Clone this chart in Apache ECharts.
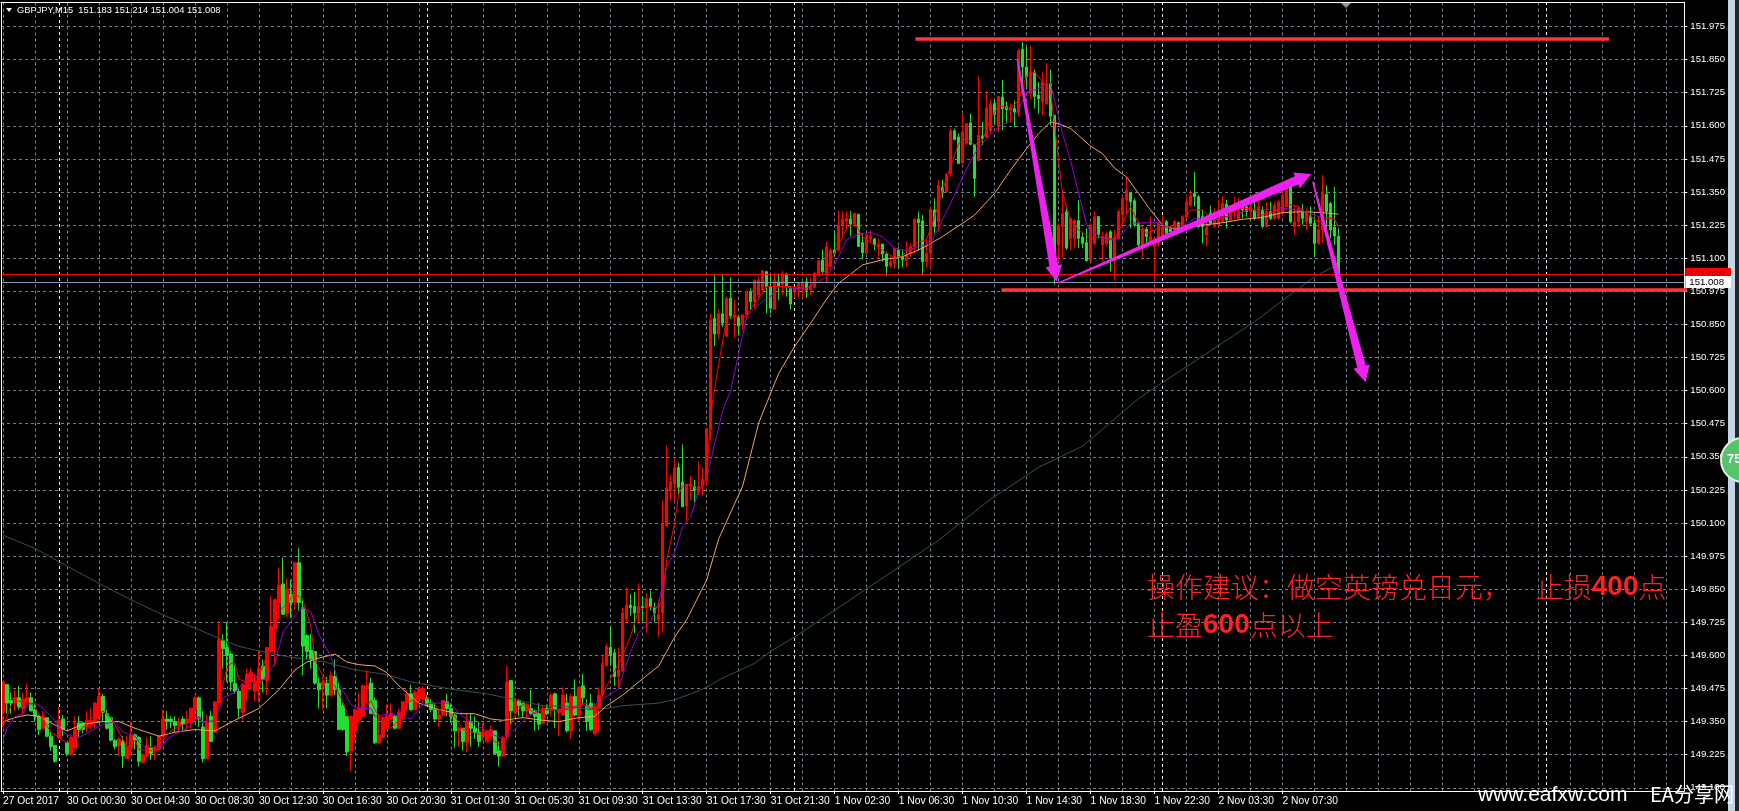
<!DOCTYPE html>
<html><head><meta charset="utf-8">
<style>html,body{margin:0;padding:0;background:#000;overflow:hidden}#c{width:1739px;height:811px}</style>
<script src="https://cdn.jsdelivr.net/npm/echarts@6/dist/echarts.min.js"></script>
</head><body><div id="c"></div>
<script>
// [open, high, low, close], one row per 15-minute bar
const bars = [
[149.39,149.50,149.33,149.50],[149.49,149.49,149.38,149.42],[149.43,149.46,149.38,149.42],[149.42,149.47,149.39,149.44],[149.44,149.485,149.395,149.405],
[149.40,149.46,149.375,149.435],[149.425,149.49,149.42,149.44],[149.44,149.46,149.39,149.39],[149.395,149.415,149.35,149.37],[149.37,149.375,149.30,149.32],
[149.325,149.39,149.32,149.37],[149.365,149.365,149.29,149.295],[149.295,149.31,149.24,149.255],[149.26,149.26,149.195,149.20],[149.29,149.405,149.285,149.355],
[149.36,149.375,149.295,149.32],[149.27,149.27,149.22,149.23],[149.225,149.295,149.225,149.29],[149.25,149.37,149.245,149.32],[149.345,149.37,149.29,149.32],
[149.345,149.35,149.305,149.32],[149.33,149.39,149.31,149.355],[149.34,149.40,149.32,149.355],[149.345,149.425,149.325,149.42],[149.37,149.475,149.36,149.445],
[149.445,149.455,149.35,149.385],[149.38,149.395,149.32,149.325],[149.365,149.37,149.275,149.28],[149.28,149.285,149.245,149.255],[149.26,149.29,149.22,149.285],
[149.275,149.295,149.175,149.22],[149.21,149.295,149.21,149.255],[149.25,149.35,149.225,149.30],[149.30,149.305,149.245,149.28],[149.29,149.295,149.18,149.20],
[149.195,149.23,149.195,149.225],[149.22,149.29,149.215,149.26],[149.25,149.295,149.205,149.23],[149.24,149.26,149.205,149.25],[149.245,149.30,149.24,149.295],
[149.295,149.395,149.29,149.36],[149.36,149.39,149.32,149.35],[149.36,149.37,149.325,149.35],[149.35,149.37,149.31,149.335],[149.335,149.365,149.31,149.35],
[149.36,149.37,149.315,149.34],[149.345,149.39,149.315,149.36],[149.345,149.40,149.325,149.40],[149.395,149.445,149.35,149.44],[149.44,149.445,149.33,149.36],
[149.33,149.39,149.195,149.21],[149.21,149.375,149.21,149.345],[149.37,149.39,149.275,149.275],[149.31,149.425,149.31,149.425],[149.42,149.73,149.42,149.66],
[149.655,149.68,149.55,149.625],[149.63,149.725,149.50,149.60],[149.605,149.615,149.465,149.50],[149.495,149.565,149.455,149.465],[149.465,149.475,149.365,149.40],
[149.385,149.495,149.35,149.49],[149.475,149.55,149.425,149.53],[149.50,149.55,149.47,149.535],[149.465,149.53,149.425,149.505],[149.495,149.615,149.425,149.55],
[149.56,149.585,149.46,149.51],[149.505,149.63,149.45,149.63],[149.615,149.825,149.61,149.71],[149.70,149.815,149.56,149.81],[149.80,149.93,149.735,149.865],
[149.87,149.97,149.755,149.755],[149.76,149.89,149.745,149.85],[149.83,149.885,149.74,149.80],[149.80,149.95,149.77,149.95],[149.95,150.005,149.77,149.80],
[149.78,149.815,149.525,149.635],[149.675,149.68,149.585,149.615],[149.62,149.68,149.55,149.585],[149.615,149.615,149.49,149.495],[149.495,149.515,149.40,149.47],
[149.485,149.52,149.395,149.50],[149.495,149.52,149.40,149.45],[149.45,149.54,149.445,149.525],[149.52,149.585,149.45,149.47],[149.47,149.50,149.32,149.32],
[149.41,149.42,149.315,149.32],[149.37,149.37,149.22,149.235],[149.24,149.37,149.165,149.37],[149.315,149.40,149.275,149.395],[149.355,149.46,149.355,149.40],
[149.37,149.49,149.365,149.485],[149.475,149.545,149.42,149.485],[149.495,149.515,149.38,149.38],[149.43,149.44,149.265,149.27],[149.27,149.38,149.265,149.30],
[149.29,149.37,149.29,149.365],[149.325,149.415,149.325,149.37],[149.36,149.42,149.355,149.38],[149.37,149.375,149.32,149.325],[149.325,149.40,149.32,149.385],
[149.37,149.425,149.355,149.425],[149.42,149.47,149.39,149.455],[149.455,149.49,149.39,149.395],[149.395,149.47,149.395,149.46],[149.435,149.48,149.42,149.475],
[149.435,149.485,149.42,149.475],[149.44,149.45,149.41,149.415],[149.42,149.435,149.385,149.395],[149.395,149.42,149.35,149.36],[149.36,149.395,149.33,149.375],
[149.375,149.43,149.37,149.43],[149.425,149.455,149.37,149.40],[149.40,149.42,149.345,149.37],[149.375,149.38,149.25,149.315],[149.315,149.33,149.255,149.325],
[149.325,149.325,149.24,149.275],[149.27,149.38,149.235,149.35],[149.35,149.38,149.255,149.325],[149.325,149.37,149.285,149.31],[149.31,149.35,149.255,149.275],
[149.295,149.345,149.28,149.31],[149.275,149.32,149.27,149.315],[149.295,149.335,149.28,149.32],[149.315,149.315,149.23,149.23],[149.24,149.275,149.18,149.22],
[149.22,149.295,149.22,149.29],[149.295,149.56,149.28,149.50],[149.505,149.505,149.34,149.39],[149.385,149.44,149.38,149.425],[149.43,149.435,149.37,149.41],
[149.42,149.42,149.365,149.39],[149.39,149.42,149.365,149.415],[149.40,149.47,149.375,149.38],[149.39,149.395,149.315,149.37],[149.38,149.42,149.32,149.34],
[149.345,149.41,149.34,149.40],[149.40,149.415,149.375,149.38],[149.395,149.46,149.37,149.45],[149.455,149.46,149.325,149.395],[149.385,149.40,149.295,149.395],
[149.375,149.48,149.37,149.45],[149.42,149.455,149.31,149.315],[149.315,149.455,149.285,149.445],[149.445,149.51,149.37,149.375],[149.375,149.48,149.35,149.48],
[149.485,149.53,149.415,149.44],[149.41,149.435,149.315,149.35],[149.42,149.455,149.315,149.32],[149.305,149.42,149.30,149.405],[149.40,149.48,149.31,149.45],
[149.45,149.60,149.44,149.57],[149.56,149.645,149.56,149.635],[149.63,149.71,149.56,149.60],[149.61,149.625,149.485,149.52],[149.52,149.63,149.475,149.545],
[149.54,149.78,149.54,149.76],[149.737,149.857,149.72,149.79],[149.79,149.83,149.75,149.78],[149.785,149.84,149.685,149.76],[149.76,149.87,149.72,149.785],
[149.785,149.825,149.73,149.78],[149.78,149.835,149.685,149.815],[149.815,149.845,149.77,149.785],[149.78,149.80,149.725,149.76],[149.735,149.81,149.67,149.755],
[149.76,150.186,149.69,150.096],[150.09,150.393,150.086,150.233],[150.224,150.284,150.184,150.258],[150.247,150.343,150.184,150.31],[150.31,150.328,150.205,150.235],
[150.255,150.397,150.16,150.161],[150.164,150.247,150.108,150.247],[150.237,150.277,150.186,150.247],[150.237,150.262,150.18,150.224],[150.218,150.333,150.205,150.239],
[150.239,150.31,150.203,150.264],[150.262,150.46,150.243,150.456],[150.453,150.89,150.41,150.867],[150.873,151.036,150.769,150.814],[150.814,150.907,150.798,150.89],
[150.89,151.039,150.84,150.855],[150.805,150.955,150.805,150.949],[150.949,151.028,150.87,150.882],[150.877,150.942,150.80,150.886],[150.876,150.886,150.81,150.844],
[150.85,150.886,150.83,150.886],[150.886,150.978,150.873,150.974],[150.974,150.986,150.905,150.936],[150.936,151.02,150.91,151.017],[150.961,151.03,150.943,151.017],
[150.98,151.053,150.967,151.053],[151.049,151.053,150.892,150.993],[150.993,151.043,150.892,150.911],[150.907,151.045,150.907,151.015],[151.011,151.043,150.943,150.993],
[150.999,151.053,150.961,151.043],[151.04,151.045,150.955,150.993],[150.986,150.993,150.905,150.927],[150.978,150.99,150.949,150.989],[150.98,151.011,150.952,151.007],
[150.982,151.011,150.949,151.011],[151.011,151.028,150.949,150.98],[150.982,151.028,150.961,150.996],[150.99,151.049,150.986,151.043],[151.036,151.093,151.033,151.09],
[151.093,151.133,151.036,151.049],[151.037,151.163,151.006,151.144],[151.069,151.138,151.056,151.131],[151.131,151.204,151.106,151.119],[151.131,151.279,151.125,151.226],
[151.226,151.279,151.175,151.248],[151.238,151.276,151.207,151.251],[151.248,151.279,151.182,151.229],[151.232,151.272,151.219,151.269],[151.266,151.266,151.144,151.144],
[151.159,151.194,151.096,151.121],[151.119,151.194,151.119,151.188],[151.172,151.204,151.156,151.184],[151.173,151.175,151.131,151.15],[151.144,151.175,151.10,151.154],
[151.154,151.154,151.087,151.116],[151.116,151.125,151.033,151.069],[151.071,151.106,151.062,151.087],[151.081,151.141,151.062,151.138],[151.131,151.144,151.062,151.104],
[151.104,151.131,151.066,151.094],[151.091,151.163,151.066,151.113],[151.119,151.156,151.106,151.144],[151.144,151.248,151.119,151.248],[151.248,151.276,151.131,151.234],
[151.241,151.263,151.035,151.087],[151.087,151.175,151.062,151.119],[151.119,151.295,151.062,151.284],[151.282,151.326,151.194,151.219],[151.238,151.395,151.20,151.376],
[151.367,151.397,151.326,151.351],[151.351,151.42,151.347,151.418],[151.42,151.589,151.407,151.581],[151.581,151.589,151.546,151.548],[151.558,151.571,151.455,151.458],
[151.46,151.648,151.458,151.577],[151.533,151.611,151.527,151.608],[151.611,151.646,151.527,151.53],[151.529,151.53,151.332,151.401],[151.468,151.786,151.468,151.565],
[151.562,151.615,151.527,151.552],[151.558,151.73,151.552,151.668],[151.58,151.702,151.57,151.681],[151.684,151.702,151.606,151.643],[151.598,151.711,151.577,151.711],
[151.709,151.774,151.583,151.665],[151.673,151.692,151.608,151.661],[151.658,151.684,151.611,151.668],[151.665,151.696,151.596,151.652],[151.652,151.89,151.636,151.884],
[151.888,151.918,151.75,151.822],[151.822,151.90,151.75,151.784],[151.721,151.903,151.70,151.803],[151.803,151.812,151.665,151.711],[151.715,151.765,151.646,151.702],
[151.69,151.803,151.64,151.765],[151.683,151.838,151.68,151.76],[151.76,151.812,151.60,151.636],[151.64,151.64,151.00,151.08],[151.15,151.232,151.087,151.225],
[151.219,151.357,151.10,151.269],[151.276,151.288,151.131,151.138],[151.175,151.25,151.131,151.25],[151.175,151.244,151.138,151.244],[151.242,151.32,151.138,151.175],
[151.18,151.20,151.138,151.156],[151.159,151.213,151.088,151.09],[151.09,151.234,151.09,151.225],[151.156,151.276,151.146,151.257],[151.257,151.257,151.175,151.188],
[151.15,151.20,151.087,151.182],[151.156,151.20,151.144,151.19],[151.20,151.207,151.05,151.10],[151.094,151.207,151.016,151.18],[151.175,151.282,151.169,151.276],
[151.263,151.332,151.219,151.326],[151.319,151.407,151.269,151.357],[151.348,151.35,151.213,151.313],[151.317,151.326,151.219,151.226],[151.232,151.238,151.144,151.15],
[151.15,151.22,151.10,151.21],[151.21,151.219,151.15,151.182],[151.156,151.257,151.15,151.182],[151.144,151.182,151.012,151.175],[151.156,151.238,151.144,151.232],
[151.182,151.263,151.175,151.219],[151.238,151.244,151.188,151.194],[151.213,151.219,151.18,151.20],[151.207,151.244,151.194,151.238],[151.234,151.238,151.20,151.213],
[151.219,151.263,151.213,151.257],[151.257,151.338,151.25,151.313],[151.30,151.357,151.295,151.336],[151.345,151.426,151.295,151.332],[151.332,151.338,151.213,151.219],
[151.257,151.282,151.156,151.219],[151.188,151.263,151.146,151.219],[151.27,151.30,151.225,151.232],[151.219,151.288,151.213,151.275],[151.225,151.32,151.219,151.282],
[151.238,151.336,151.238,151.307],[151.304,151.32,151.213,151.244],[151.244,151.30,151.238,151.282],[151.275,151.332,151.25,151.30],[151.25,151.326,151.244,151.288],
[151.30,151.313,151.25,151.282],[151.294,151.307,151.257,151.276],[151.276,151.307,151.25,151.294],[151.282,151.332,151.244,151.25],[151.257,151.313,151.244,151.295],
[151.28,151.295,151.213,151.22],[151.22,151.313,151.216,151.276],[151.276,151.313,151.244,151.25],[151.25,151.313,151.244,151.30],[151.25,151.32,151.244,151.313],
[151.27,151.35,151.263,151.338],[151.295,151.382,151.295,151.37],[151.376,151.376,151.232,151.238],[151.219,151.30,151.188,151.238],[151.238,151.295,151.219,151.288],
[151.282,151.304,151.225,151.25],[151.238,151.288,151.207,151.276],[151.257,151.295,151.225,151.232],[151.232,151.257,151.106,151.156],[151.156,151.257,151.15,151.207],
[151.207,151.414,151.156,151.351],[151.342,151.376,151.207,151.276],[151.307,151.313,151.175,151.207],[151.217,151.37,151.15,151.184],[151.183,151.214,151.004,151.008]
];
// moving averages at [bar, price] points
const maRed = [[0,149.33],[2,149.41],[3,149.43],[6,149.42],[7,149.42],[9,149.38],[12,149.31],[14,149.29],[16,149.27],[19,149.31],[21,149.345],[23,149.375],[25,149.39],[27,149.365],[29,149.31],[31,149.255],[33,149.28],[34,149.245],[37,149.24],[40,149.28],[42,149.315],[46,149.345],[48,149.375],[50,149.35],[53,149.35],[54,149.425],[56,149.55],[57,149.57],[58,149.57],[59,149.51],[61,149.50],[64,149.52],[67,149.635],[68,149.75],[71,149.795],[73,149.835],[75,149.81],[77,149.71],[78,149.585],[80,149.52],[83,149.485],[85,149.425],[87,149.345],[88,149.32],[90,149.385],[92,149.43],[93,149.395],[96,149.33],[97,149.325],[100,149.37],[101,149.42],[104,149.445],[107,149.435],[109,149.395],[113,149.37],[115,149.32],[118,149.305],[121,149.30],[124,149.265],[126,149.30],[128,149.375],[130,149.415],[133,149.38],[135,149.395],[138,149.395],[141,149.40],[146,149.42],[147,149.395],[149,149.415],[151,149.485],[154,149.57],[155,149.60],[157,149.675],[159,149.77],[161,149.785],[164,149.78],[165,149.815],[166,149.96],[168,150.10],[169,150.21],[170,150.24],[172,150.247],[174,150.22],[176,150.27],[177,150.515],[179,150.70],[181,150.873],[184,150.882],[186,150.88],[188,150.93],[191,150.993],[192,150.993],[194,150.993],[197,150.993],[201,150.986],[203,151.011],[206,151.06],[208,151.12],[211,151.213],[213,151.235],[215,151.18],[218,151.15],[220,151.13],[223,151.10],[225,151.11],[228,151.155],[231,151.17],[233,151.257],[235,151.357],[237,151.445],[239,151.533],[241,151.555],[243,151.527],[245,151.545],[247,151.627],[249,151.677],[252,151.665],[254,151.696],[256,151.79],[258,151.803],[260,151.765],[262,151.734],[264,151.47],[265,151.345],[267,151.244],[269,151.207],[272,151.175],[275,151.18],[278,151.17],[280,151.232],[282,151.295],[284,151.232],[286,151.194],[289,151.213],[292,151.22],[295,151.232],[297,151.282],[300,151.282],[303,151.244],[306,151.257],[309,151.288],[312,151.288],[315,151.263],[318,151.276],[321,151.305],[324,151.295],[327,151.257],[329,151.238],[331,151.25],[333,151.247],[334,151.213]];
const maPurple = [[0,149.28],[1,149.325],[3,149.37],[5,149.38],[6,149.415],[8,149.42],[10,149.40],[12,149.37],[14,149.33],[16,149.30],[19,149.29],[22,149.315],[25,149.34],[28,149.35],[30,149.31],[33,149.295],[35,149.255],[39,149.25],[42,149.295],[46,149.325],[49,149.37],[50,149.345],[53,149.355],[55,149.44],[58,149.46],[60,149.495],[63,149.525],[65,149.505],[68,149.57],[70,149.685],[73,149.75],[75,149.78],[77,149.765],[79,149.68],[82,149.595],[84,149.495],[87,149.415],[89,149.40],[92,149.40],[93,149.37],[97,149.38],[102,149.36],[105,149.415],[108,149.42],[112,149.42],[114,149.38],[118,149.34],[122,149.305],[125,149.285],[128,149.32],[131,149.365],[134,149.395],[138,149.395],[142,149.395],[145,149.415],[147,149.40],[150,149.435],[154,149.475],[155,149.525],[157,149.615],[159,149.685],[162,149.73],[164,149.80],[166,149.935],[168,149.99],[170,150.086],[172,150.124],[174,150.224],[176,150.268],[178,150.40],[180,150.525],[182,150.60],[184,150.74],[186,150.88],[190,150.938],[192,150.955],[194,150.993],[199,150.984],[201,150.986],[206,151.03],[208,151.075],[211,151.17],[214,151.19],[217,151.198],[220,151.18],[223,151.138],[226,151.128],[229,151.144],[232,151.154],[235,151.245],[238,151.338],[240,151.407],[243,151.495],[246,151.552],[249,151.596],[252,151.62],[254,151.66],[256,151.727],[259,151.74],[261,151.76],[262,151.76],[264,151.633],[265,151.57],[267,151.47],[269,151.345],[271,151.23],[272,151.194],[273,151.198],[275,151.175],[278,151.167],[280,151.194],[282,151.232],[286,151.234],[289,151.234],[292,151.213],[295,151.22],[298,151.25],[302,151.244],[308,151.263],[312,151.285],[317,151.282],[321,151.288],[326,151.276],[329,151.257],[333,151.25],[334,151.22]];
const maOrange = [[0,149.35],[3,149.365],[6,149.375],[9,149.37],[12,149.345],[16,149.315],[20,149.34],[25,149.35],[29,149.35],[33,149.325],[39,149.295],[43,149.31],[48,149.32],[53,149.315],[58,149.355],[64,149.40],[69,149.47],[73,149.545],[76,149.575],[79,149.59],[83,149.605],[86,149.575],[89,149.565],[93,149.56],[96,149.535],[99,149.485],[104,149.42],[109,149.395],[114,149.38],[118,149.38],[122,149.36],[125,149.355],[130,149.365],[135,149.355],[139,149.35],[144,149.365],[148,149.37],[151,149.41],[155,149.45],[159,149.50],[164,149.56],[168,149.67],[171,149.735],[173,149.795],[176,149.885],[179,150.04],[185,150.24],[189,150.478],[194,150.665],[198,150.767],[202,150.855],[206,150.946],[209,151.006],[212,151.04],[215,151.075],[220,151.094],[225,151.106],[230,151.138],[235,151.182],[240,151.232],[243,151.263],[248,151.345],[252,151.433],[256,151.514],[259,151.57],[262,151.615],[264,151.608],[267,151.59],[269,151.564],[272,151.523],[275,151.495],[278,151.44],[281,151.407],[284,151.345],[287,151.282],[290,151.225],[293,151.21],[297,151.219],[300,151.225],[305,151.234],[310,151.247],[315,151.254],[320,151.272],[325,151.276],[330,151.272],[334,151.266]];
const maSlate = [[0,150.054],[8,150.004],[14,149.954],[24,149.872],[32,149.81],[40,149.753],[48,149.703],[54,149.665],[59,149.634],[66,149.611],[72,149.593],[80,149.577],[88,149.546],[96,149.527],[102,149.50],[112,149.473],[121,149.455],[129,149.43],[135,149.41],[141,149.408],[147,149.395],[151,149.40],[155,149.41],[164,149.42],[168,149.433],[172,149.454],[176,149.48],[180,149.515],[188,149.57],[192,149.615],[198,149.67],[204,149.73],[234,150.035],[247,150.19],[259,150.31],[270,150.39],[284,150.57],[290,150.63],[297,150.70],[304,150.77],[313,150.86],[320,150.94],[328,151.03],[333,151.07]];
const barCount = 421;
const timeLabels = ['27 Oct 2017','30 Oct 00:30','30 Oct 04:30','30 Oct 08:30','30 Oct 12:30','30 Oct 16:30','30 Oct 20:30','31 Oct 01:30','31 Oct 05:30','31 Oct 09:30','31 Oct 13:30','31 Oct 17:30','31 Oct 21:30','1 Nov 02:30','1 Nov 06:30','1 Nov 10:30','1 Nov 14:30','1 Nov 18:30','1 Nov 22:30','2 Nov 03:30','2 Nov 07:30'];
const priceTicks = [149.1,149.225,149.35,149.475,149.6,149.725,149.85,149.975,150.1,150.225,150.35,150.475,150.6,150.725,150.85,150.975,151.1,151.225,151.35,151.475,151.6,151.725,151.85,151.975];
const daySeparators = [14,106,198,290,386];
const askPrice = 151.038, bidPrice = 151.008;
const resistance = [[228.2,151.928],[401.7,151.928]];
const support = [[249.7,150.98],[434.3,150.98]];
// arrows: from bar, from price, to bar, to price
const arrows = [[253.7,151.852,263.5,151.012],[264,151.007,327.2,151.418],[327.6,151.389,340.8,150.632]];
const noteLine1 = ['操作建议：做空英镑兑日元，    止损','400','点'];
const noteLine2 = ['止盈','600','点以上'];
const headerText = 'GBPJPY,M15  151.183 151.214 151.004 151.008';

const UI = 'Liberation Sans';
const chart = echarts.init(document.getElementById('c'), null, {renderer:'canvas', width:1739, height:811});
const maLine = (name, data, color, z) => ({type:'line', name, xAxisIndex:1, data, showSymbol:false, silent:true, z, animation:false, lineStyle:{color, width:1}});
const flatLine = (name, data, color, width) => ({type:'line', name, xAxisIndex:1, data, showSymbol:false, silent:true, clip:false, z:8, animation:false, lineStyle:{color, width}});
const priceLine = (name, v, color, bg, fg, z) => ({type:'line', name, xAxisIndex:1, data:[], z, silent:true, animation:false,
  markLine:{silent:true, symbol:'none', animation:false, z, lineStyle:{color, width:1, type:'solid'},
    label:{show:true, position:'end', distance:1, formatter:v.toFixed(3), color:fg, backgroundColor:bg, fontFamily:UI, fontSize:9.6, padding:[1,7,1,4], lineHeight:10},
    data:[{yAxis:v}]}});
chart.setOption({
  animation:false, backgroundColor:'#000',
  grid:{left:0.3, top:2.5, width:1684, height:788.5, show:false},
  xAxis:[
    {type:'category', data:Array.from({length:barCount},(_, i)=>String(i)), boundaryGap:true,
     axisLine:{show:true, onZero:false, lineStyle:{color:'#fff', width:1}},
     axisTick:{show:true, alignWithLabel:true, length:3, interval:(i)=>i%16===0 && i<=320, lineStyle:{color:'#fff'}},
     axisLabel:{show:true, interval:(i)=>i%16===0 && i<=320, formatter:(v,i)=>timeLabels[i/16]||'', color:'#fff', fontFamily:UI, fontSize:10.3, align:'left', margin:5, hideOverlap:false},
     splitLine:{show:true, alignWithLabel:true, interval:(i)=>i%8===0, lineStyle:{color:'#708090', width:1, type:[3,3]}}},
    {type:'value', min:-0.5, max:420.5, position:'top', axisLine:{show:true, onZero:false, lineStyle:{color:'#fff'}}, axisTick:{show:false}, axisLabel:{show:false}, splitLine:{show:false}}
  ],
  yAxis:{type:'value', min:149.088, max:152.0656, position:'right', scale:true,
    axisLine:{show:true, onZero:false, lineStyle:{color:'#fff'}},
    axisTick:{show:true, length:3, customValues:priceTicks, lineStyle:{color:'#fff'}},
    axisLabel:{show:true, customValues:priceTicks, formatter:(v)=>v.toFixed(3), color:'#fff', fontFamily:UI, fontSize:9.6, margin:6, hideOverlap:false},
    splitLine:{show:true, lineStyle:{color:'#708090', width:1, type:[3,3]}}},
  series:[
    {type:'candlestick', name:'GBPJPY', xAxisIndex:0, barWidth:3, z:3, silent:true, animation:false,
     data:bars.map(b=>[b[0],b[3],b[2],b[1]]),
     itemStyle:{color:'#ff0000', color0:'#22dd33', borderColor:'#ff0000', borderColor0:'#22dd33', borderWidth:1},
     markLine:{silent:true, symbol:'none', animation:false, z:2, label:{show:false}, lineStyle:{color:'#fff', width:1, type:[3,3]}, data:daySeparators.map(d=>({xAxis:d}))}},
    maLine('MA200', maSlate, '#36504f', 4),
    maLine('MA30', maOrange, '#f4a460', 5),
    maLine('MA10', maPurple, '#9400d3', 6),
    maLine('MA5', maRed, '#ff0000', 7),
    priceLine('Ask', askPrice, '#ff0000', '#ff0000', '#7a0000', 8),
    priceLine('Bid', bidPrice, '#8a97a6', '#ffffff', '#000000', 8),
    flatLine('Resistance', resistance, '#ff3538', 3.5),
    flatLine('Support', support, '#ff3538', 3.5),
    {type:'custom', name:'Arrows', xAxisIndex:1, z:10, silent:true, clip:false, animation:false, data:arrows,
     dimensions:['x0','y0','x1','y1'], encode:{x:[0,2], y:[1,3]},
     renderItem:(p, api)=>{
       const a = api.coord([api.value(0),api.value(1)]), b = api.coord([api.value(2),api.value(3)]);
       const dx=b[0]-a[0], dy=b[1]-a[1], L=Math.hypot(dx,dy), ux=dx/L, uy=dy/L, nx=-uy, ny=ux;
       const headL=16, headW=17, neckW=9, tailW=1.5;
       const at=(d,o)=>[a[0]+ux*d+nx*o, a[1]+uy*d+ny*o];
       return {type:'polygon', shape:{points:[at(0,tailW/2),at(L-headL,neckW/2),at(L-headL,headW/2),b,at(L-headL,-headW/2),at(L-headL,-neckW/2),at(0,-tailW/2)]}, style:{fill:'#ee22ee'}};
     }}
  ],
  graphic:[
    {type:'rect', silent:true, z:20, shape:{x:1,y:2,width:1,height:789}, style:{fill:'#fff'}},
    {type:'polygon', silent:true, z:20, shape:{points:[[6,8],[12,8],[9,12]]}, style:{fill:'#fff'}},
    {type:'text', silent:true, z:20, x:17, y:5.5, style:{text:headerText, fill:'#fff', font:'9.3px "Liberation Sans"'}},
    {type:'polygon', silent:true, z:20, shape:{points:[[1341,3],[1351,3],[1346,8]]}, style:{fill:'#8a93a0'}},
    {type:'rect', silent:true, z:1, shape:{x:1728,y:0,width:7,height:811}, style:{fill:'#c4d5e6'}},
    {type:'rect', silent:true, z:1, shape:{x:1735,y:0,width:4,height:811}, style:{fill:'#20262c'}},
    {type:'circle', silent:true, z:22, shape:{cx:1743,cy:460,r:22}, style:{fill:'#55c46a', stroke:'#e0f0e0', lineWidth:2}},
    {type:'text', silent:true, z:23, x:1727, y:453, style:{text:'75', fill:'#fff', font:'bold 13px "Liberation Sans"'}},
    {type:'text', silent:true, z:15, x:1147, y:573, style:{text:`{a|${noteLine1[0]}}{b|${noteLine1[1]}}{a|${noteLine1[2]}}`, rich:{a:{fill:'#ff2222',font:'300 28px "Noto Sans CJK SC"'},b:{fill:'#ff2222',font:'bold 28px "Liberation Sans"'}}}},
    {type:'text', silent:true, z:15, x:1147, y:611, style:{text:`{a|${noteLine2[0]}}{b|${noteLine2[1]}}{a|${noteLine2[2]}}`, rich:{a:{fill:'#ff2222',font:'300 28px "Noto Sans CJK SC"'},b:{fill:'#ff2222',font:'bold 28px "Liberation Sans"'}}}},
    {type:'text', silent:true, z:24, x:1478, y:785, style:{text:'www.eafxw.com', fill:'#fff', font:'21px "Liberation Sans"'}},
    {type:'text', silent:true, z:24, x:1650, y:784, style:{text:'EA分享网', fill:'#fff', font:'20px "Noto Sans CJK SC"'}}
  ]
});
</script></body></html>
